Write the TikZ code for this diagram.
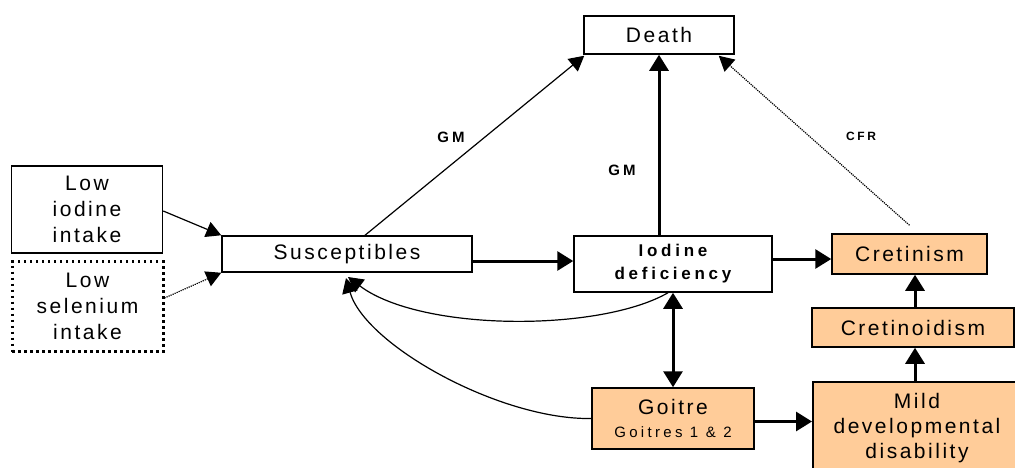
\documentclass[tikz,border=0pt]{standalone}
\usepackage{fontspec}
\setmainfont{Liberation Sans}[LetterSpace=12]
\newfontfamily\widefont{Liberation Sans}[LetterSpace=22]
\usetikzlibrary{arrows.meta,calc}
\definecolor{peach}{HTML}{FFCC99}
\tikzset{
  box/.style={draw,line width=1.5pt,inner sep=0pt,align=center,font=\fontsize{21}{26}\selectfont},
  pbox/.style={box,fill=peach},
  thinar/.style={line width=1.2pt,-{Triangle[length=15pt,width=16pt]}},
  thickar/.style={line width=3pt,-{Triangle[length=16pt,width=19pt]}},
  lbl/.style={font=\widefont\bfseries\fontsize{15}{17}\selectfont}
}
\begin{document}
\begin{tikzpicture}[x=1pt,y=-1pt]
\useasboundingbox (0,0) rectangle (1015,467);
\node[box,minimum width=150pt,minimum height=38pt] (death) at (659,35) {Death};
\node[box,minimum width=151pt,minimum height=87pt] (lowi) at (87,209.5) {Low\\iodine\\intake};
\node[box,dash pattern=on 2.5pt off 3.5pt,line width=3pt,minimum width=151pt,minimum height=90pt] (lows) at (87.5,306.5) {Low\\selenium\\intake};
\node[box,minimum width=250pt,minimum height=36pt] (susc) at (347,254) {Susceptibles};
\node[box,minimum width=198pt,minimum height=56pt,font=\widefont\bfseries\fontsize{17}{23}\selectfont] (iod) at (673,264) {Iodine\\deficiency};
\node[pbox,minimum width=155pt,minimum height=40pt] (cret) at (909.5,254) {Cretinism};
\node[pbox,minimum width=202pt,minimum height=39pt] (cretd) at (913,327.5) {Cretinoidism};
\node[pbox,minimum width=162pt,minimum height=61pt] (goi) at (673,418.5) {Goitre\\[-3pt]{\widefont\fontsize{15}{17}\selectfont Goitres 1 \& 2}};
\node[pbox,minimum width=210pt,minimum height=96pt,anchor=north west] (mild) at (812,381) {};
\node[font=\fontsize{21}{25}\selectfont,align=center,anchor=north] (mildt) at (917,390) {Mild\\developmental\\disability};
% labels
\node[lbl] (gm1) at (451,137) {GM};
\node[lbl] (gm2) at (622,170) {GM};
\node[font=\widefont\bfseries\fontsize{12}{14}\selectfont] (cfr) at (861,136) {CFR};
% connectors
\coordinate (s1) at ($(susc.north)+(18,0)$);
\draw[thinar] (s1) -- ($(death.south west)+(1,1)$);
\draw[thickar] (death.south |- iod.north) -- (death.south);
\draw[line width=1.2pt,densely dotted,-{Triangle[length=15pt,width=16pt]}] ($(cret.north)+(0,-8)$) -- ($(death.south east)+(-16,1)$);
\coordinate (a1) at ($(susc.east)+(0,7)$);
\draw[thickar] (a1) -- (a1 -| iod.west);
\coordinate (a2) at ($(iod.east)+(0,-5)$);
\draw[thickar] (a2) -- (a2 -| cret.west);
\draw[thickar] (cretd.north -| 915,0) -- (cret.south -| 915,0);
\draw[thickar] (mild.north -| 915,0) -- (cretd.south -| 915,0);
\coordinate (a3) at ($(goi.east)+(0,3)$);
\draw[thickar] (a3) -- (a3 -| mild.west);
\draw[line width=3pt,{Triangle[length=16pt,width=19pt]}-{Triangle[length=16pt,width=19pt]}] (iod.south) -- (goi.north);
\draw[thinar] ($(iod.south)+(-5,0)$) .. controls (600,332) and (421,332) .. (348,277);
\draw[thinar] (goi.west) .. controls (500,420) and (365,345) .. (346,278);
\draw[thinar] (lowi.east |- 0,211) -- (susc.north west);
\draw[line width=1.2pt,densely dotted,-{Triangle[length=15pt,width=16pt]}] (lows.east |- 0,298) -- (susc.south west);
\end{tikzpicture}
\end{document}
